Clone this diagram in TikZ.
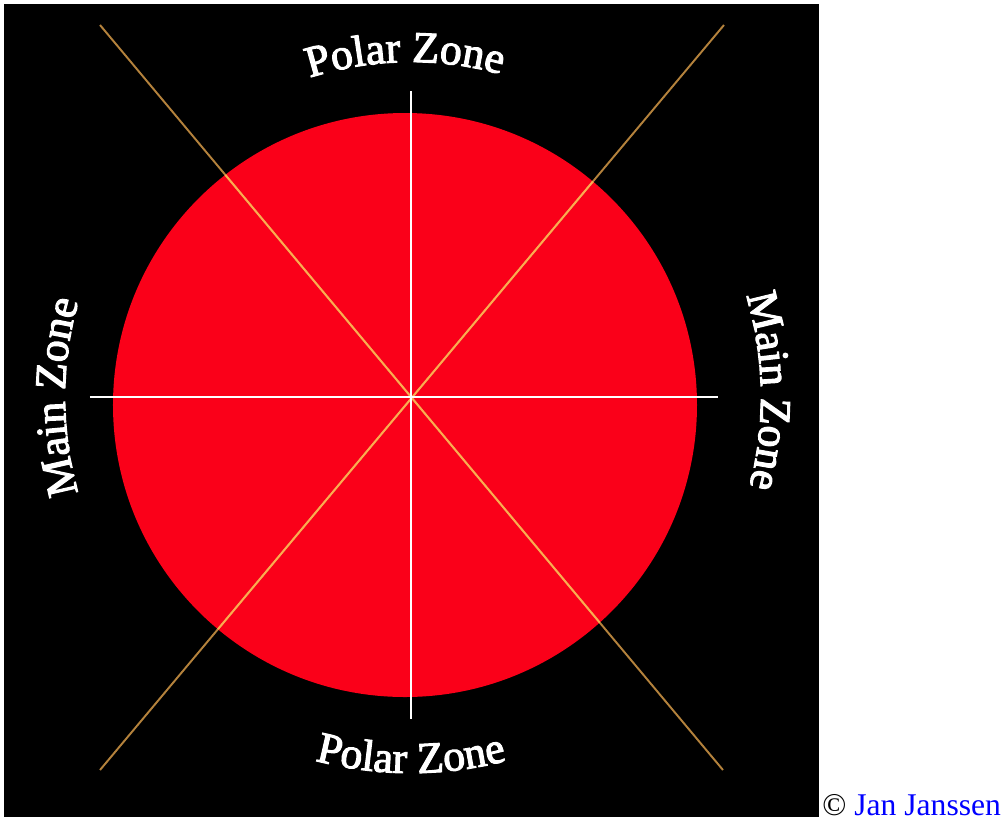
\documentclass[tikz,border=0pt]{standalone}
\usepackage{fontspec}
\setmainfont{Liberation Serif}
\newfontfamily\zonefam[FakeBold=2.5]{Liberation Serif}
\usetikzlibrary{decorations.text}
\definecolor{discred}{RGB}{250,0,25}
\definecolor{diagtan}{RGB}{180,130,60}
\definecolor{diagorange}{RGB}{255,170,80}
\definecolor{linkblue}{RGB}{0,0,255}
\newcommand{\zonefont}{\zonefam\fontsize{25}{25}\selectfont}

\begin{document}
\begin{tikzpicture}[x=0.02cm,y=0.02cm,
  zonelabel/.style={decorate,decoration={text along path,text align=center,
    text color=white,text={|\zonefont|#1}}},
  diag/.style={line width=1.1pt}]
\useasboundingbox (-411,-426) rectangle (593,397);
\fill[black] (-407,-420) rectangle (408,393);
\coordinate (c) at (0,0);
\coordinate (disc) at (-6,-8);
\fill[discred] (disc) circle (292);
% diagonals
\coordinate (nw) at (-311,372);
\coordinate (se) at (312,-373);
\coordinate (ne) at (313,372);
\coordinate (sw) at (-311,-373);
\draw[diag,diagtan] (nw) -- (se) (ne) -- (sw);
\begin{scope}
  \clip (disc) circle (292);
  \draw[diag,diagorange] (nw) -- (se) (ne) -- (sw);
\end{scope}
% axes
\coordinate (top) at (0,306);
\coordinate (bot) at (0,-322);
\coordinate (lft) at (-321,0);
\coordinate (rgt) at (307,0);
\draw[white,line width=1pt] (top) -- (bot) (lft) -- (rgt);
% zone labels
\path[zonelabel=Polar Zone] (121:335) arc[start angle=121,end angle=61,radius=335];
\path[zonelabel=Polar Zone] (240:376) arc[start angle=240,end angle=300,radius=376];
\path[zonelabel=Main Zone] (200:346) arc[start angle=200,end angle=160,radius=346];
\path[zonelabel=Main Zone] (21:350) arc[start angle=21,end angle=-19,radius=350];
\node[anchor=base west,inner sep=0pt,font=\fontsize{18}{18}\selectfont] (credit)
  at (411,-418) {\textcolor{black}{©} \textcolor{linkblue}{Jan Janssen}};
\end{tikzpicture}
\end{document}
